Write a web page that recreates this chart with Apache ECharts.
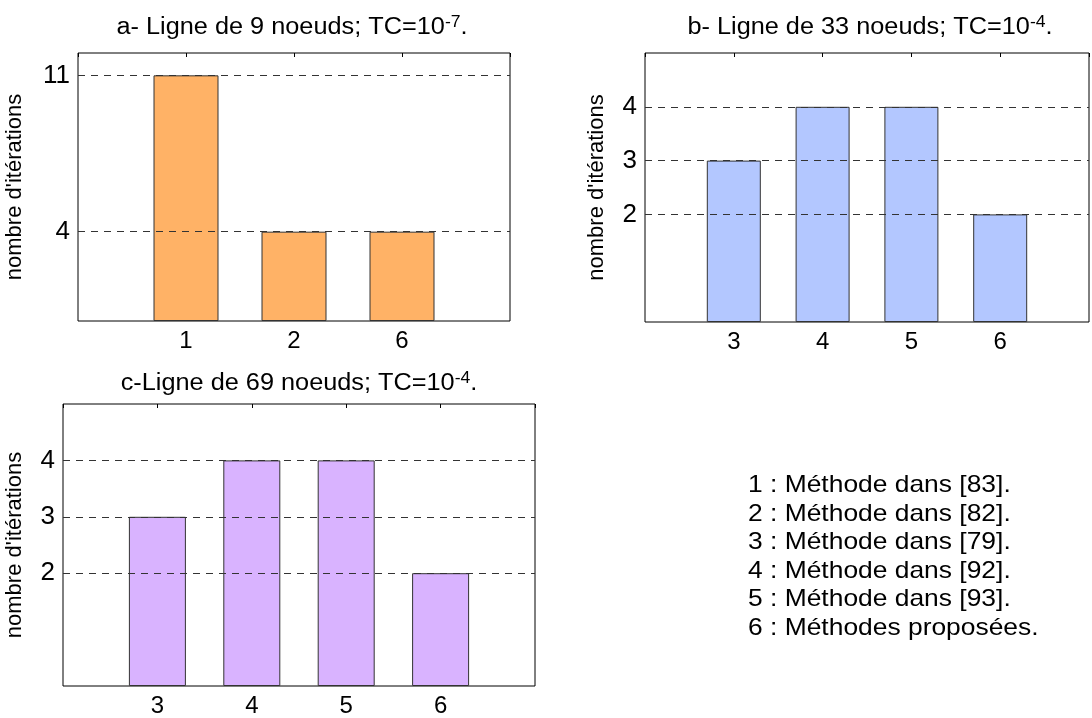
<!DOCTYPE html>
<html>
<head>
<meta charset="utf-8">
<script src="https://cdn.jsdelivr.net/npm/echarts@6/dist/echarts.min.js"></script>
<style>
  html, body { margin: 0; padding: 0; background: #fff; }
  #chart { width: 1092px; height: 718px; }
</style>
</head>
<body>
<div id="chart"></div>
<script>
// Panel a: 9-node line
const catsA = ['1', '2', '6'];
const valsA = [11, 4, 4];
const ticksA = [4, 11];
// Panel b: 33-node line
const catsB = ['3', '4', '5', '6'];
const valsB = [3, 4, 4, 2];
const ticksB = [2, 3, 4];
// Panel c: 69-node line
const catsC = ['3', '4', '5', '6'];
const valsC = [3, 4, 4, 2];
const ticksC = [2, 3, 4];

const titleA = ['a- Ligne de 9 noeuds; TC=10', '-7', '.'];
const titleB = ['b- Ligne de 33 noeuds; TC=10', '-4', '.'];
const titleC = ['c-Ligne de 69 noeuds; TC=10', '-4', '.'];

const legendLines = [
  '1 : Méthode dans [83].',
  '2 : Méthode dans [82].',
  '3 : Méthode dans [79].',
  '4 : Méthode dans [92].',
  '5 : Méthode dans [93].',
  '6 : Méthodes proposées.'
];

const yName = "nombre d'itérations";
const FONT = 'Liberation Sans, Arial, Helvetica, sans-serif';
const WIDE = 1.1; // horizontal stretch of the free-standing texts

const panels = [
  { cats: catsA, vals: valsA, ticks: ticksA, yMax: 12, color: '#FFB266', nameGap: 52,
    grid: { left: 78, top: 53, width: 432, height: 268 } },
  { cats: catsB, vals: valsB, ticks: ticksB, yMax: 5, color: '#B3C7FF', nameGap: 37,
    grid: { left: 645, top: 53, width: 452, height: 269 } },
  { cats: catsC, vals: valsC, ticks: ticksC, yMax: 5, color: '#D9B3FF', nameGap: 37,
    grid: { left: 63, top: 404, width: 472, height: 282 } }
];

const grids = [], xAxes = [], yAxes = [], series = [];
panels.forEach((p, i) => {
  const n = p.cats.length;
  grids.push(Object.assign({ show: true, borderColor: '#000', borderWidth: 1, backgroundColor: '#fff' }, p.grid));
  // bottom axis with category labels
  xAxes.push({
    type: 'value', gridIndex: i, min: 0, max: n + 1, interval: 1, position: 'bottom',
    axisLine: { show: false }, axisTick: { show: false }, splitLine: { show: false },
    axisLabel: { color: '#000', fontFamily: FONT, fontSize: 24, margin: 8,
      formatter: v => (v >= 1 && v <= n) ? p.cats[v - 1] : '' }
  });
  // top axis: inward ticks only
  xAxes.push({
    type: 'value', gridIndex: i, min: 0, max: n + 1, interval: 1, position: 'top',
    axisLine: { show: false }, splitLine: { show: false }, axisLabel: { show: false },
    axisTick: { show: true, inside: true, length: 4, lineStyle: { color: '#000', width: 1 } }
  });
  yAxes.push({
    type: 'value', gridIndex: i, min: 0, max: p.yMax, interval: 1,
    axisLine: { show: false }, axisTick: { show: false }, splitLine: { show: false },
    axisLabel: { color: '#000', fontFamily: FONT, fontSize: 26, margin: 8,
      formatter: v => p.ticks.indexOf(v) >= 0 ? String(v) : '' },
    name: yName, nameLocation: 'middle', nameRotate: 90, nameGap: p.nameGap,
    nameTextStyle: { color: '#000', fontFamily: FONT, fontSize: 22 }
  });
  const unit = p.grid.width / (n + 1);
  // dashed reference lines at the labelled values
  series.push({
    type: 'line', xAxisIndex: 2 * i, yAxisIndex: i, data: [], z: 1, silent: true,
    markLine: {
      symbol: 'none', silent: true, label: { show: false },
      lineStyle: { type: [7, 6], color: '#333', width: 1 },
      data: p.ticks.map(t => ({ yAxis: t }))
    }
  });
  series.push({
    type: 'bar', xAxisIndex: 2 * i, yAxisIndex: i, z: 3,
    barWidth: Math.round(unit * 0.6),
    itemStyle: { color: p.color, borderColor: '#333', borderWidth: 1 },
    data: p.vals.map((v, k) => [k + 1, v])
  });
});

function titleText(parts) {
  return '{m|' + parts[0] + '}{s|' + parts[1] + '}{m|' + parts[2] + '}';
}
const titleRich = {
  m: { fontFamily: FONT, fontSize: 23, fill: '#000', lineHeight: 26 },
  s: { fontFamily: FONT, fontSize: 16, fill: '#000', lineHeight: 26, verticalAlign: 'top', padding: [0, 0, 11, 0] }
};

function title(parts, x, y) {
  return { type: 'text', x: x, y: y, scaleX: WIDE,
    style: { text: titleText(parts), rich: titleRich, textAlign: 'center', textVerticalAlign: 'middle' } };
}

const graphics = [
  title(titleA, 292, 28),
  title(titleB, 870, 28),
  title(titleC, 299, 384),
  { type: 'text', x: 748, y: 471, scaleX: WIDE,
    style: { text: legendLines.join('\n'), fontFamily: FONT, fontSize: 24, lineHeight: 28.6, fill: '#000', textVerticalAlign: 'top' } }
];

const chart = echarts.init(document.getElementById('chart'), null, { renderer: 'canvas' });
chart.setOption({
  backgroundColor: '#fff',
  animation: false,
  grid: grids,
  xAxis: xAxes,
  yAxis: yAxes,
  series: series,
  graphic: graphics
});
</script>
</body>
</html>
